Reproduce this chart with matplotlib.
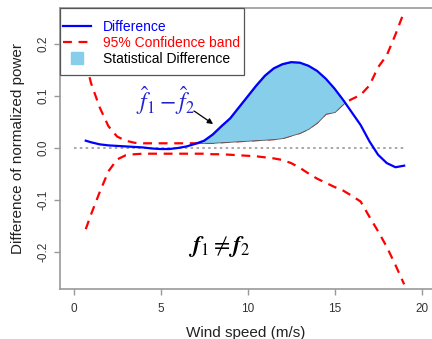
import numpy as np
import matplotlib.pyplot as plt
from matplotlib.lines import Line2D
from matplotlib.patches import Rectangle

plt.rcParams['font.family'] = ['Liberation Sans', 'DejaVu Sans']

wind = [0.7, 1.0, 1.5, 2.0, 2.5, 3.0, 3.5, 4.0, 4.5, 5.0, 5.5, 6.0, 6.5, 7.0, 7.5,
        8.0, 8.5, 9.0, 9.5, 10.0, 10.5, 11.0, 11.5, 12.0, 12.5, 13.0, 13.5, 14.0,
        14.5, 15.0, 15.5, 16.0, 16.5, 17.0, 17.5, 18.0, 18.5, 19.0]

diff = [0.014, 0.011, 0.007, 0.005, 0.004, 0.003, 0.002, 0.001, -0.001, -0.002,
        -0.002, 0.000, 0.003, 0.008, 0.014, 0.026, 0.042, 0.057, 0.078, 0.099,
        0.120, 0.139, 0.153, 0.161, 0.165, 0.164, 0.158, 0.148, 0.133, 0.114,
        0.092, 0.068, 0.044, 0.013, -0.013, -0.029, -0.037, -0.034]

upper = [0.165, 0.125, 0.078, 0.042, 0.022, 0.014, 0.010, 0.009, 0.009, 0.009,
         0.009, 0.009, 0.009, 0.009, 0.010, 0.010, 0.011, 0.012, 0.013, 0.014,
         0.015, 0.016, 0.017, 0.019, 0.024, 0.029, 0.037, 0.049, 0.066, 0.069,
         0.085, 0.094, 0.102, 0.120, 0.155, 0.178, 0.218, 0.262]

lower = [-0.156, -0.128, -0.085, -0.045, -0.022, -0.014, -0.012, -0.011, -0.011,
         -0.011, -0.011, -0.011, -0.011, -0.011, -0.011, -0.012, -0.012, -0.013,
         -0.014, -0.015, -0.016, -0.018, -0.020, -0.023, -0.029, -0.038, -0.049,
         -0.059, -0.067, -0.075, -0.082, -0.092, -0.103, -0.132, -0.160, -0.190,
         -0.225, -0.262]

wind = np.array(wind)
diff = np.array(diff)
upper = np.array(upper)
lower = np.array(lower)

fig = plt.figure(figsize=(4.32, 3.39), dpi=100)
ax = fig.add_axes([60/432, 50/339, 1 - 60/432, 281/339])

ax.hlines(0, 0, 19, colors='#999999', linestyles=(0, (1.5, 2)), lw=1.2, zorder=1)
ax.plot(wind, upper, color='red', lw=1.6, dashes=(4, 3), zorder=2)
ax.plot(wind, lower, color='red', lw=1.6, dashes=(4, 3), zorder=2)
ax.fill_between(wind, upper, diff, where=diff > upper, interpolate=True,
                facecolor='skyblue', edgecolor='#555555', lw=0.6, zorder=3)
ax.plot(wind, diff, color='blue', lw=1.6, zorder=4)

ax.text(5.3, 0.092, r'$\hat{f}_1 - \hat{f}_2$', color='#2323d0', fontsize=17,
        ha='center', va='center', math_fontfamily='stix')
ax.annotate('', xy=(8.15, 0.043), xytext=(6.8, 0.074),
            arrowprops=dict(arrowstyle='-|>', color='black', lw=0.9,
                            mutation_scale=8))
ax.text(8.4, -0.19, r'$\boldsymbol{f}_1 \neq \boldsymbol{f}_2$', color='black',
        fontsize=17, ha='center', va='center', math_fontfamily='stix')

ax.set_xlim(-0.78, 20.6)
ax.set_ylim(-0.271, 0.269)
ax.set_xticks([0, 5, 10, 15, 20])
ax.set_yticks([-0.2, -0.1, 0.0, 0.1, 0.2])
ax.set_yticklabels(['-0.2', '-0.1', '0.0', '0.1', '0.2'], rotation=90, va='center')
ax.tick_params(axis='both', colors='#999999', labelcolor='#333333',
               labelsize=8.5, length=4, width=1)
ax.tick_params(axis='x', pad=6)
ax.set_xlabel('Wind speed (m/s)', fontsize=11, color='#222222', labelpad=8)
ax.set_ylabel('Difference of normalized power', fontsize=11, color='#222222',
              labelpad=9)

for side in ['left', 'bottom', 'top']:
    ax.spines[side].set_color('#999999')
    ax.spines[side].set_linewidth(1.2)
ax.spines['right'].set_visible(False)

# legend frame drawn by hand, R style
ax.add_patch(Rectangle((0, 0.7616), 0.4946, 0.2384, transform=ax.transAxes,
                       facecolor='white', edgecolor='#555555', lw=0.9,
                       zorder=5, clip_on=False))
handles = [Line2D([], [], color='blue', lw=1.6),
           Line2D([], [], color='red', lw=1.6, dashes=(4, 3)),
           Line2D([], [], marker='s', color='skyblue', linestyle='none', markersize=9)]
labels = ['Difference', '95% Confidence band', 'Statistical Difference']
leg = ax.legend(handles, labels, loc='upper left', bbox_to_anchor=(0.008, 0.958),
                borderaxespad=0, borderpad=0, frameon=False,
                fontsize=10, handlelength=2.0, handletextpad=0.85,
                labelspacing=0.15)
leg.set_zorder(6)
for t, c in zip(leg.get_texts(), ['blue', 'red', 'black']):
    t.set_color(c)

fig.savefig('out.png', dpi=100)
